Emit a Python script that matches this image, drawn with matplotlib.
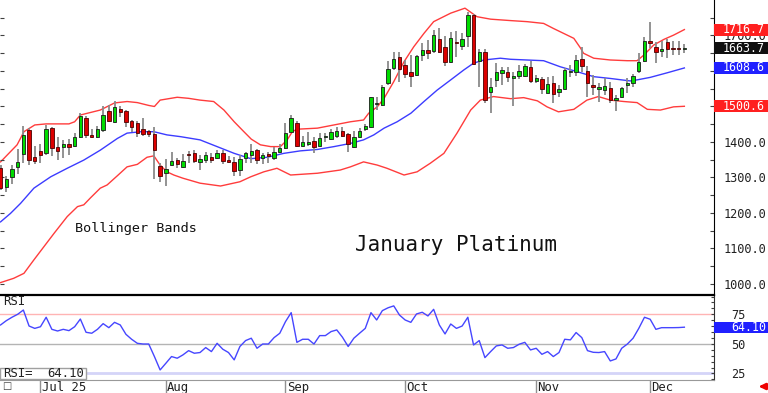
import numpy as np
import matplotlib
matplotlib.use('Agg')
import matplotlib.pyplot as plt
import matplotlib.transforms as mtrans
from matplotlib.patches import Rectangle

# daily bars, 20 Jun 2025 .. 9 Dec 2025 (January platinum)
opens = [1327, 1274, 1302, 1330, 1365, 1434, 1359, 1375, 1370, 1439,
         1386, 1387, 1394, 1389, 1415, 1468, 1420, 1415, 1434, 1487,
         1457, 1493, 1487, 1459, 1453, 1436, 1431, 1422, 1333, 1312,
         1335, 1349, 1329, 1365, 1368, 1345, 1349, 1358, 1356, 1370,
         1349, 1344, 1321, 1354, 1363, 1377, 1354, 1366, 1354, 1373,
         1382, 1429, 1454, 1390, 1394, 1403, 1390, 1414, 1408, 1417,
         1431, 1422, 1387, 1415, 1436, 1443, 1506, 1504, 1567, 1609,
         1640, 1617, 1598, 1589, 1645, 1659, 1656, 1690, 1668, 1624,
         1683, 1671, 1699, 1758, 1629, 1653, 1542, 1575, 1594, 1598,
         1581, 1586, 1586, 1612, 1572, 1577, 1539, 1565, 1540, 1548,
         1597, 1598, 1634, 1601, 1560, 1549, 1546, 1551, 1518, 1526,
         1561, 1566, 1601, 1628, 1685, 1668, 1657, 1683, 1664, 1662,
         1662]
highs = [1335, 1305, 1335, 1379, 1445, 1440, 1390, 1394, 1447, 1442,
         1415, 1405, 1408, 1425, 1481, 1472, 1436, 1446, 1501, 1503,
         1515, 1500, 1490, 1461, 1458, 1468, 1433, 1443, 1340, 1351,
         1372, 1355, 1367, 1375, 1378, 1363, 1372, 1370, 1378, 1378,
         1360, 1358, 1363, 1372, 1395, 1380, 1368, 1372, 1385, 1395,
         1453, 1475, 1460, 1418, 1428, 1415, 1425, 1425, 1438, 1442,
         1442, 1425, 1432, 1440, 1452, 1528, 1528, 1560, 1627, 1654,
         1654, 1631, 1645, 1645, 1678, 1687, 1716, 1720, 1699, 1711,
         1713, 1706, 1767, 1761, 1661, 1661, 1579, 1622, 1612, 1610,
         1598, 1617, 1619, 1628, 1590, 1584, 1582, 1586, 1560, 1608,
         1617, 1645, 1667, 1614, 1589, 1565, 1579, 1570, 1532, 1556,
         1579, 1592, 1650, 1697, 1737, 1683, 1685, 1689, 1685, 1685,
         1675]
lows = [1265, 1258, 1282, 1310, 1340, 1335, 1337, 1342, 1362, 1360,
        1349, 1355, 1362, 1385, 1410, 1410, 1410, 1410, 1429, 1455,
        1454, 1470, 1443, 1429, 1415, 1417, 1415, 1295, 1288, 1276,
        1332, 1328, 1326, 1340, 1340, 1322, 1340, 1340, 1352, 1337,
        1340, 1305, 1305, 1340, 1340, 1337, 1338, 1340, 1350, 1370,
        1380, 1428, 1386, 1387, 1388, 1370, 1386, 1400, 1405, 1410,
        1415, 1373, 1382, 1412, 1430, 1439, 1490, 1502, 1560, 1603,
        1570, 1579, 1554, 1586, 1629, 1633, 1650, 1652, 1614, 1623,
        1640, 1659, 1668, 1617, 1556, 1509, 1481, 1554, 1561, 1570,
        1501, 1577, 1582, 1565, 1565, 1535, 1537, 1511, 1528, 1546,
        1582, 1586, 1598, 1528, 1532, 1514, 1532, 1509, 1487, 1523,
        1539, 1556, 1594, 1626, 1664, 1623, 1640, 1636, 1645, 1645,
        1650]
closes = [1270, 1296, 1323, 1345, 1420, 1350, 1346, 1362, 1437, 1384,
          1375, 1395, 1387, 1414, 1473, 1420, 1415, 1438, 1476, 1460,
          1499, 1485, 1455, 1443, 1425, 1422, 1422, 1377, 1304, 1323,
          1346, 1337, 1346, 1362, 1346, 1351, 1363, 1349, 1370, 1346,
          1344, 1319, 1351, 1368, 1375, 1349, 1363, 1361, 1373, 1384,
          1424, 1467, 1389, 1399, 1399, 1387, 1412, 1416, 1427, 1431,
          1418, 1393, 1415, 1431, 1446, 1528, 1508, 1556, 1605, 1633,
          1605, 1592, 1586, 1642, 1659, 1650, 1701, 1654, 1624, 1692,
          1678, 1689, 1758, 1620, 1653, 1518, 1554, 1598, 1602, 1584,
          1586, 1601, 1614, 1573, 1581, 1549, 1563, 1536, 1548, 1603,
          1601, 1631, 1614, 1566, 1556, 1554, 1558, 1518, 1523, 1551,
          1567, 1586, 1626, 1685, 1678, 1653, 1662, 1661, 1661, 1661,
          1663.7]

# Bollinger bands (bar index, price)
upper_x = [0, 1.75, 2.9, 4.1, 6, 8, 12, 13, 14, 17.5, 20, 22.2, 24, 26, 27, 28,
           31, 33, 35, 37.4, 39.2, 41, 42.7, 44, 45.6, 47.4, 49.1, 50.3, 51.2,
           52, 55.6, 58.5, 61.4, 63.7, 64.6, 66.1, 67.3, 69, 70.8, 72.5, 74.3,
           76, 79, 81.5, 83.6, 86, 89.5, 92.4, 95.3, 97, 98.8, 100.6, 101.8,
           102.3, 104.1, 107, 110, 111.7, 112.9, 114.6, 116.4, 118.1, 120]
upper_v = [1344, 1373, 1392, 1429, 1448, 1451, 1451, 1457, 1476, 1490, 1510,
           1514, 1511, 1503, 1500, 1518, 1526, 1523, 1518, 1514, 1490, 1457,
           1429, 1408, 1392, 1387, 1387, 1406, 1429, 1436, 1439, 1448, 1457,
           1462, 1481, 1499, 1523, 1570, 1626, 1668, 1706, 1739, 1763, 1777,
           1753, 1746, 1742, 1739, 1734, 1720, 1706, 1692, 1664, 1650, 1636,
           1631, 1629, 1629, 1645, 1673, 1689, 1701, 1716.7]
mid_x = [0, 1.75, 3.5, 5.85, 8.8, 11.7, 14.6, 17.5, 20.5, 22.2, 24.6, 26.9,
         29.2, 31.6, 35, 38, 41, 43.9, 46.8, 49.7, 52.6, 55.6, 58.5, 61.4,
         63.7, 65.5, 67.3, 69.6, 72, 74.3, 76.6, 79, 81.3, 83, 84.8, 87.7,
         89.5, 95.3, 98.2, 101.2, 104.1, 107, 110.5, 111.7, 114, 117, 120]
mid_v = [1175, 1199, 1227, 1270, 1302, 1326, 1349, 1377, 1410, 1425, 1429,
         1429, 1420, 1415, 1406, 1387, 1368, 1353, 1357, 1368, 1375, 1379,
         1387, 1396, 1406, 1420, 1439, 1457, 1481, 1514, 1546, 1575, 1603,
         1622, 1631, 1636, 1633, 1629, 1612, 1598, 1584, 1579, 1572, 1575,
         1582, 1595, 1608.6]
lower_x = [0, 2.3, 4.1, 5.85, 7.6, 9.4, 11.7, 13.5, 14.6, 15.8, 17.5, 18.7,
           20.5, 22.2, 24, 25.7, 26.9, 28, 29.2, 30.4, 32, 35, 38.6, 42, 43.9,
           46.2, 48.5, 50.9, 55.6, 59.6, 61.4, 63.7, 66.1, 67.8, 70.8, 73.1,
           75.4, 77.8, 80.1, 82.5, 84.2, 86.5, 89.5, 91.8, 94.2, 95.9, 97.9,
           100.6, 102.9, 104.9, 107, 109.4, 111.7, 113.5, 115.8, 118.1, 120]
lower_v = [1004, 1016, 1030, 1068, 1105, 1143, 1190, 1218, 1223, 1243, 1270,
           1279, 1305, 1330, 1337, 1357, 1361, 1335, 1316, 1307, 1298, 1284,
           1276, 1288, 1302, 1316, 1326, 1307, 1312, 1321, 1330, 1344, 1335,
           1326, 1307, 1316, 1340, 1368, 1425, 1490, 1518, 1528, 1522, 1525,
           1516, 1499, 1485, 1492, 1518, 1528, 1518, 1514, 1511, 1492, 1490,
           1499, 1500.6]

rsi = [66, 69.6, 72.5, 75, 78.6, 65.1, 63.1, 64.5, 72.5, 62.3,
       60.9, 62.3, 61.2, 64.5, 71, 59.8, 59, 62.3, 67.1, 63.7,
       68.2, 66, 58.1, 53.9, 50.5, 49.9, 49.9, 39.3, 28, 33.6,
       39.3, 37.9, 40.7, 44.3, 42.1, 42.7, 46.9, 43.5, 50.5, 45.5,
       42.7, 36.5, 47.8, 52.8, 54.8, 46.3, 49.9, 49.9, 55.3, 59,
       68.8, 76.4, 51.3, 53.9, 53.9, 49.9, 57, 57, 60.4, 61.8,
       55.6, 47.8, 54.8, 59, 63.1, 76.4, 70.2, 78.1, 80.5, 82.1,
       74.4, 70.2, 68.2, 75.3, 76.7, 73.6, 79.2, 66, 58.4, 66.8,
       63.1, 65.1, 72.5, 49.1, 52.8, 38.4, 43.5, 48.3, 49.1, 46.3,
       46.9, 49.7, 51.3, 44.9, 46.3, 41.2, 43.5, 39.3, 42.7, 53.9,
       53.4, 59.6, 55.3, 44.3, 42.9, 42.7, 43.5, 35.6, 37.3, 46.3,
       49.9, 54.8, 63.1, 72.5, 70.8, 62.3, 63.7, 63.7, 63.7, 63.8,
       64.10]

month_names = ['Jul 25', 'Aug', 'Sep', 'Oct', 'Nov', 'Dec']
month_start = [7, 29, 50, 71, 94, 114]
price_ticks = [1000, 1100, 1200, 1300, 1400, 1700]  # 1500/1600 sit under the value boxes

W, H = 768, 393
fig = plt.figure(figsize=(W / 100, H / 100), dpi=100)
ax = fig.add_axes([0, 1 - 295 / H, 714 / W, 295 / H])
ax2 = fig.add_axes([0, 1 - 380 / H, 714 / W, 85 / H])
mono = 'DejaVu Sans Mono'

o = np.array(opens, float)
h = np.array(highs, float)
l = np.array(lows, float)
c = np.array(closes, float)
x = np.arange(len(c))
up = c >= o
lo = np.minimum(o, c)
bh = np.maximum(np.abs(c - o), 2.5)

ax.plot(upper_x, upper_v, color='#ff3c3c', lw=1, zorder=1)
ax.plot(lower_x, lower_v, color='#ff3c3c', lw=1, zorder=1)
ax.plot(mid_x, mid_v, color='#3c3cff', lw=1, zorder=1)
ax.vlines(x, l, h, color='#8a8a8a', lw=1.3, zorder=2)
ax.bar(x[up], bh[up], bottom=lo[up], width=0.6, color='#00dc00',
       edgecolor='#1a1a1a', lw=0.6, zorder=3)
ax.bar(x[~up], bh[~up], bottom=lo[~up], width=0.6, color='#dc0000',
       edgecolor='#4a0000', lw=0.6, zorder=3)

ax.set_xlim(-0.1, 125.2)
ax.set_ylim(969, 1800)
for s in ['top', 'left', 'bottom']:
    ax.spines[s].set_visible(False)
ax.spines['right'].set_color('black')
ax.set_yticks(price_ticks)
ax.set_yticks(np.arange(1050, 1800, 50), minor=True)
ax.set_yticklabels(['%.1f' % v for v in price_ticks])
ax.tick_params(axis='y', which='both', left=True, right=True, labelleft=False,
               labelright=True, direction='in', length=3, width=0.8,
               color='#404040', pad=6.6, labelsize=8.6, labelcolor='#202020')
for t in ax.get_yticklabels():
    t.set_fontfamily(mono)

ax.text(0.19, 0.227, 'Bollinger Bands', transform=ax.transAxes, ha='center',
        va='center', fontsize=9.7, family=mono, color='#111111')
ax.text(0.639, 0.17, 'January Platinum', transform=ax.transAxes, ha='center',
        va='center', fontsize=15, family=mono, color='#111111')

# last-value boxes on the price scale
btr = mtrans.blended_transform_factory(ax.transAxes, ax.transData)
px = 831 / 295
for val, col in [(upper_v[-1], '#ff2020'), (c[-1], '#101010'),
                 (mid_v[-1], '#2020ff'), (lower_v[-1], '#ff2020')]:
    ax.add_patch(Rectangle((1.0, val - 6 * px), 54 / 714, 12 * px, transform=btr,
                           facecolor=col, edgecolor='none', clip_on=False, zorder=6))
    ax.text(1 + 8.5 / 714, val, '%.1f' % val, transform=btr, ha='left',
            va='center', color='white', fontsize=8.4, family=mono,
            clip_on=False, zorder=7)

# RSI panel
ax2.axhline(75, color='#ffb4b4', lw=1, zorder=1)
ax2.axhline(50, color='#b4b4b4', lw=1, zorder=1)
ax2.axhline(25, color='#d4d4f8', lw=2, zorder=1)
ax2.plot(x, rsi, color='#4646ff', lw=1, zorder=2)
ax2.set_xlim(-0.1, 125.2)
ax2.set_ylim(19.5, 91.3)
ax2.spines['left'].set_visible(False)
ax2.spines['top'].set_color('black')
ax2.spines['top'].set_linewidth(1.6)
ax2.spines['right'].set_color('#303030')
ax2.spines['bottom'].set_color('#999999')
ax2.set_yticks([25, 50, 75])
ax2.set_yticks(np.arange(20, 95, 5), minor=True)
ax2.tick_params(axis='y', which='both', left=False, right=True, labelleft=False,
                labelright=True, direction='in', length=2.5, width=0.8,
                color='#404040', pad=12.2, labelsize=8.6, labelcolor='#202020')
for t in ax2.get_yticklabels():
    t.set_fontfamily(mono)
ax2.set_xticks(month_start)
ax2.set_xticklabels([])
ax2.tick_params(axis='x', direction='out', length=9.5, width=1, color='#909090')

xtr = mtrans.blended_transform_factory(ax2.transData, ax2.transAxes)
for pos, name in zip(month_start, month_names):
    ax2.text(pos + 0.2, -0.085, name, transform=xtr, ha='left', va='center',
             fontsize=8.8, family=mono, color='#202020', clip_on=False)

rtr = mtrans.blended_transform_factory(ax2.transAxes, ax2.transData)
rpx = 71.8 / 85
ax2.add_patch(Rectangle((1.0, rsi[-1] - 5.5 * rpx), 54 / 714, 11 * rpx, transform=rtr,
                        facecolor='#2020ff', edgecolor='none', clip_on=False, zorder=6))
ax2.text(1 + 17 / 714, rsi[-1], '%.2f' % rsi[-1], transform=rtr, ha='left',
         va='center', color='white', fontsize=8.4, family=mono, clip_on=False, zorder=7)

ax2.text(0.004, 0.92, 'RSI', transform=ax2.transAxes, ha='left', va='center',
         fontsize=8.8, family=mono, color='#202020')
ax2.add_patch(Rectangle((0, 0.008), 86 / 714, 0.137, transform=ax2.transAxes,
                        facecolor='white', edgecolor='#a0a0a0', lw=1,
                        clip_on=False, zorder=5))
ax2.text(0.004, 0.076, 'RSI=', transform=ax2.transAxes, ha='left', va='center',
         fontsize=8.8, family=mono, color='#202020', zorder=6)
ax2.text(84 / 714, 0.076, '%.2f' % rsi[-1], transform=ax2.transAxes, ha='right',
         va='center', fontsize=8.8, family=mono, color='#202020', zorder=6)

fig.text(2 / W, 1 - 386 / H, '\u25a1', ha='left', va='center', fontsize=7,
         color='#404040')
ax2.annotate('', xy=(756, 6.5), xytext=(767, 6.5), xycoords='figure pixels',
             textcoords='figure pixels', annotation_clip=False,
             arrowprops=dict(arrowstyle='-|>', color='#ee0000', lw=2.2,
                             mutation_scale=8))

fig.savefig('out.png', dpi=100)
